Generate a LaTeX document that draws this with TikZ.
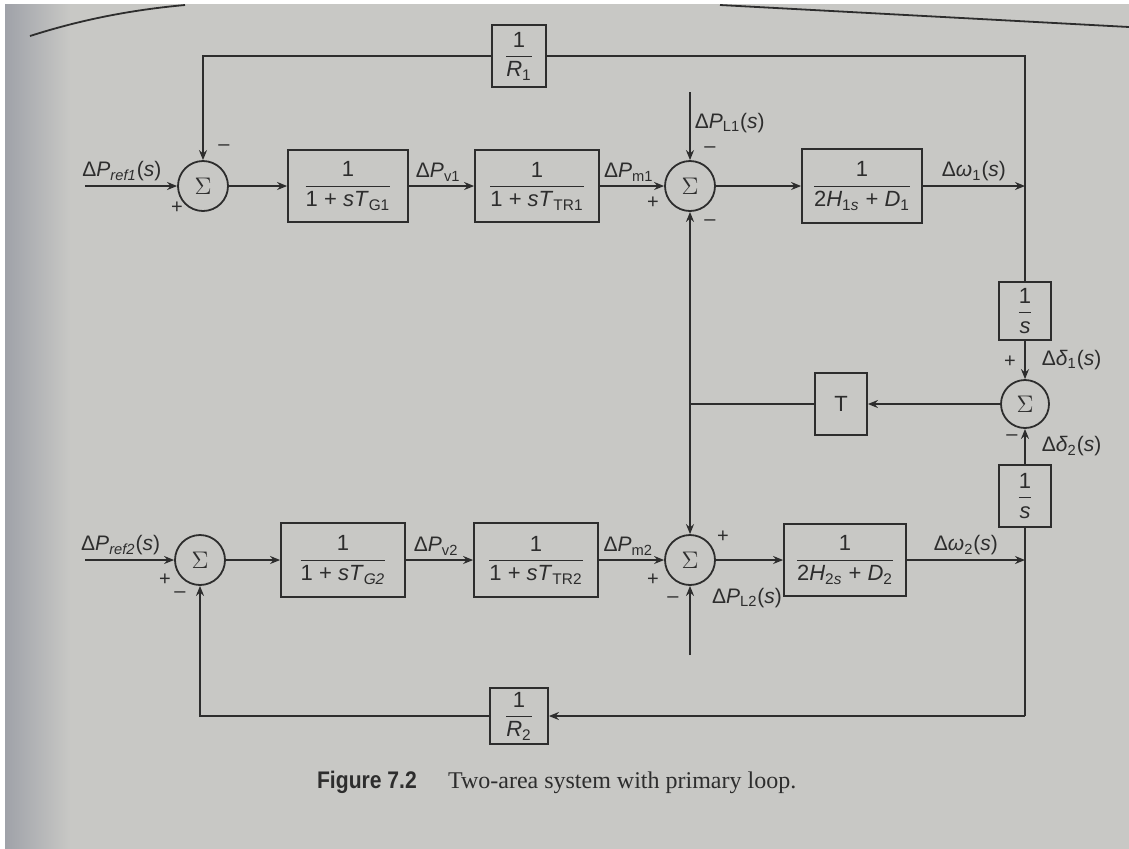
\documentclass[tikz,border=0pt]{standalone}
\usepackage{amsmath}
\usepackage{graphicx}
\usepackage{fontspec}
\setmainfont{Liberation Sans}
\newfontfamily\capfont{Liberation Serif}
\usetikzlibrary{arrows.meta}
\definecolor{ink}{RGB}{45,45,45}
\definecolor{page}{RGB}{200,200,197}
\definecolor{edge}{RGB}{150,153,162}

% fraction inside a block
\newcommand{\bfr}[2]{$\displaystyle\frac{\text{#1}}{#2}$}

\tikzset{
  blk/.style={draw=ink, line width=0.9pt, inner sep=2pt, text=ink,
              font=\fontsize{11}{13}\selectfont},
  sumnode/.style={draw=ink, circle, line width=0.9pt, minimum size=25pt,
                  inner sep=0pt, text=ink, font=\large},
  sig/.style={text=ink, inner sep=1pt, font=\fontsize{10}{12}\selectfont},
  lbl/.style={text=ink, inner sep=2pt, font=\fontsize{10.5}{12}\selectfont},
  line/.style={draw=ink, line width=0.8pt},
  arr/.style={line, -{Stealth[length=5pt,width=4pt]}}
}

\begin{document}
\begin{tikzpicture}[x=0.5pt,y=-0.5pt]
\useasboundingbox (0,0) rectangle (1129,848);
\fill[page] (-10,-10) rectangle (1139,858);
\shade[left color=edge, right color=page] (-10,-10) rectangle (70,858);
\fill[white] (-10,-10) rectangle (1139,4);
\fill[white] (-10,-10) rectangle (5,858);
% page header rules
\draw[ink, line width=0.9pt] (30,36) .. controls (80,20) and (130,10) .. (185,5);
\draw[ink, line width=0.9pt] (720,5) -- (1129,27);

% area 1
\coordinate (ref1) at (85,186);
\node[sumnode] (s1) at (203,186) {$\Sigma$};
\node[blk, minimum width=60pt, minimum height=36pt] (g1) at (348,186)
  {\bfr{1}{\text{1 + \textit{sT}}_{\text{G1}}}};
\node[blk, minimum width=62pt, minimum height=36pt] (tr1) at (537,186)
  {\bfr{1}{\text{1 + \textit{sT}}_{\text{TR1}}}};
\node[sumnode] (s2) at (690,186) {$\Sigma$};
\coordinate (pl1) at (690,92);
\node[blk, minimum width=60pt, minimum height=37pt] (m1) at (862,186)
  {\bfr{1}{\text{2\textit{H}}_{\text{1\textit{s}}}\text{ + \textit{D}}_{\text{1}}}};
\coordinate (w1) at (1025,186);
\coordinate (tr) at (1025,56);
\coordinate (tl) at (203,56);
\node[blk, minimum width=27pt, minimum height=31pt] (r1) at (519,56)
  {\bfr{1}{\text{\textit{R}}_{\text{1}}}};

% tie line
\node[blk, minimum width=26pt, minimum height=29pt] (one1) at (1025,311)
  {\bfr{1}{\text{\textit{s}}}};
\node[sumnode, minimum size=24pt] (sum3) at (1025,404) {$\Sigma$};
\node[blk, minimum width=26pt, minimum height=31pt] (tbox) at (841,404) {T};
\coordinate (jt) at (690,404);
\node[blk, minimum width=26pt, minimum height=31pt] (one2) at (1025,496)
  {\bfr{1}{\text{\textit{s}}}};

% area 2
\coordinate (ref2) at (85,560);
\node[sumnode] (s3) at (200,560) {$\Sigma$};
\node[blk, minimum width=62pt, minimum height=37pt] (g2) at (343,560)
  {\bfr{1}{\text{1 + \textit{sT}}_{\text{\textit{G2}}}}};
\node[blk, minimum width=62pt, minimum height=37pt] (tr2) at (536,560)
  {\bfr{1}{\text{1 + \textit{sT}}_{\text{TR2}}}};
\node[sumnode] (s4) at (690,560) {$\Sigma$};
\coordinate (pl2) at (690,655);
\node[blk, minimum width=61pt, minimum height=36pt] (m2) at (845,560)
  {\bfr{1}{\text{2\textit{H}}_{\text{2\textit{s}}}\text{ + \textit{D}}_{\text{2}}}};
\coordinate (w2) at (1025,560);
\coordinate (br) at (1025,716);
\coordinate (bl) at (200,716);
\node[blk, minimum width=29pt, minimum height=26pt] (r2) at (519,716)
  {\bfr{1}{\text{\textit{R}}_{\text{2}}}};

% connectors, area 1
\draw[arr] (ref1) -- node[lbl, above, pos=0.4] (lref1)
  {Δ\textit{P}$_{\text{\textit{ref1}}}$(\textit{s})} (s1);
\draw[arr] (s1) -- (g1);
\draw[arr] (g1) -- node[lbl, above, pos=0.45] (lv1) {Δ\textit{P}$_{\text{v1}}$} (tr1);
\draw[arr] (tr1) -- node[lbl, above, pos=0.45] (lm1) {Δ\textit{P}$_{\text{m1}}$} (s2);
\draw[arr] (pl1) -- node[lbl, right, pos=0.45] (ll1) {Δ\textit{P}$_{\text{L1}}$(\textit{s})} (s2);
\draw[arr] (s2) -- (m1);
\draw[arr] (m1) -- node[lbl, above] (lw1) {Δ\textit{ω}$_{\text{1}}$(\textit{s})} (w1);
\draw[line] (one1) -- (tr) -- (r1);
\draw[arr] (r1) -- (tl) -- (s1);

% connectors, tie line
\draw[arr] (one1) -- node[lbl, right=6pt] (ld1) {Δ\textit{δ}$_{\text{1}}$(\textit{s})} (sum3);
\draw[arr] (one2) -- node[lbl, right=6pt] (ld2) {Δ\textit{δ}$_{\text{2}}$(\textit{s})} (sum3);
\draw[arr] (sum3) -- (tbox);
\draw[line] (tbox) -- (jt);
\draw[arr] (jt) -- (s2);
\draw[arr] (jt) -- (s4);

% connectors, area 2
\draw[arr] (ref2) -- node[lbl, above, pos=0.4] (lref2)
  {Δ\textit{P}$_{\text{\textit{ref2}}}$(\textit{s})} (s3);
\draw[arr] (s3) -- (g2);
\draw[arr] (g2) -- node[lbl, above, pos=0.45] (lv2) {Δ\textit{P}$_{\text{v2}}$} (tr2);
\draw[arr] (tr2) -- node[lbl, above, pos=0.45] (lm2) {Δ\textit{P}$_{\text{m2}}$} (s4);
\draw[arr] (pl2) -- (s4);
\node[lbl] (ll2) at (747,598) {Δ\textit{P}$_{\text{L2}}$(\textit{s})};
\draw[arr] (s4) -- (m2);
\draw[arr] (m2) -- node[lbl, above] (lw2) {Δ\textit{ω}$_{\text{2}}$(\textit{s})} (w2);
\draw[line] (one2) -- (br);
\draw[arr] (br) -- (r2);
\draw[arr] (r2) -- (bl) -- (s3);

% signs
\node[sig] (sg1) at (224,148) {–};
\node[sig] (sg2) at (177,208) {+};
\node[sig] (sg3) at (710,150) {–};
\node[sig] (sg4) at (653,203) {+};
\node[sig] (sg5) at (710,223) {–};
\node[sig] (sg6) at (1010,362) {+};
\node[sig] (sg7) at (1012,438) {–};
\node[sig] (sg8) at (165,580) {+};
\node[sig] (sg9) at (180,595) {–};
\node[sig] (sg10) at (723,537) {+};
\node[sig] (sg11) at (653,580) {+};
\node[sig] (sg12) at (673,600) {–};

% caption
\node[text=ink, anchor=west] (cap) at (310,782)
  {\fontsize{12}{14}\selectfont\scalebox{0.88}[1]{\bfseries Figure 7.2}\hspace{1.3em}{\capfont Two-area system with primary loop.}};
\end{tikzpicture}
\end{document}
